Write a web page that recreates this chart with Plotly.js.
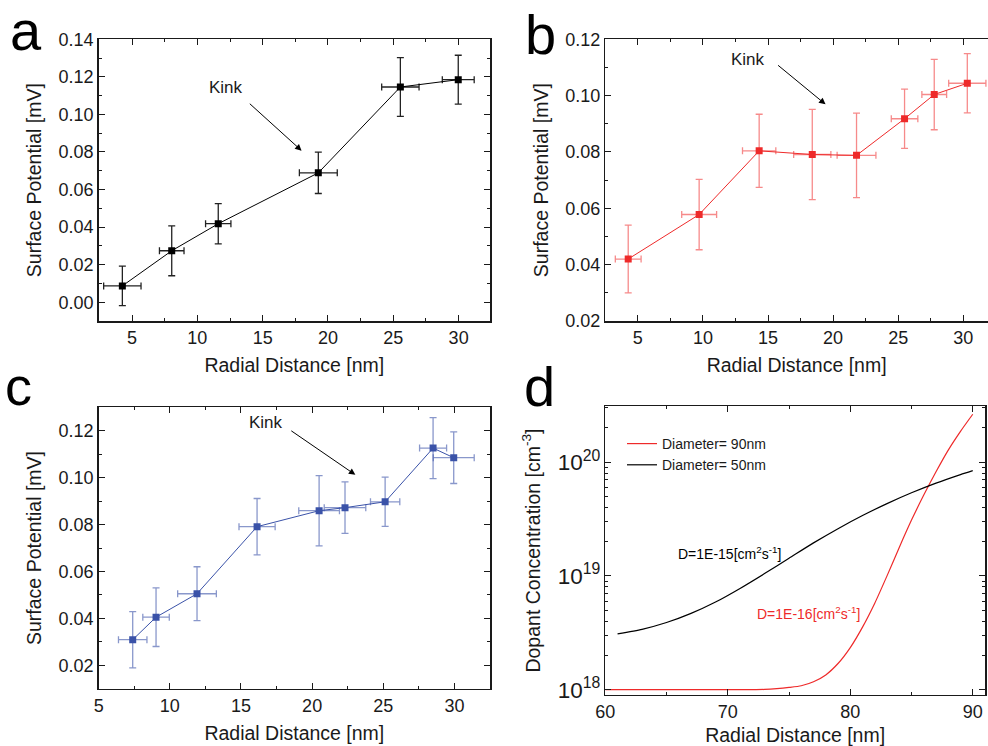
<!DOCTYPE html>
<html>
<head>
<meta charset="utf-8">
<script src="https://cdn.plot.ly/plotly-3.0.1.min.js"></script>
<style>html,body{margin:0;padding:0;background:#fff;}#chart{width:988px;height:746px;}</style>
</head>
<body>
<div id="chart"></div>
<script>
// Panel a (black)
const aX    = [4.26, 8.04, 11.6, 19.26, 25.54, 29.97];
const aY    = [0.0087, 0.0274, 0.0418, 0.0689, 0.1146, 0.1185];
const aXErr = [1.43, 0.94, 0.97, 1.45, 1.43, 1.22];
const aYErr = [0.0105, 0.0133, 0.0107, 0.011, 0.0156, 0.013];
// Panel b (red)
const bX    = [4.26, 9.71, 14.32, 18.4, 21.8, 25.49, 27.77, 30.31];
const bY    = [0.042, 0.0578, 0.0804, 0.0791, 0.0788, 0.0918, 0.1004, 0.1044];
const bXErr = [0.99, 1.34, 1.28, 1.43, 1.49, 1.02, 0.95, 1.43];
const bYErr = [0.012, 0.0125, 0.013, 0.016, 0.015, 0.0105, 0.0125, 0.0105];
// Panel c (blue)
const cX    = [7.39, 9.03, 11.91, 16.13, 20.49, 22.31, 25.13, 28.5, 29.95];
const cY    = [0.0309, 0.0405, 0.0505, 0.0791, 0.0859, 0.0872, 0.0897, 0.1126, 0.1085];
const cXErr = [1.0, 0.93, 1.36, 1.27, 1.43, 1.46, 1.03, 0.95, 1.44];
const cYErr = [0.012, 0.0125, 0.0115, 0.012, 0.015, 0.011, 0.0105, 0.013, 0.011];
// Panel d curves
const d50X = [61, 63, 65, 67, 69, 71, 73, 75, 77, 79, 81, 83, 85, 87, 89, 90];
const d50Y = [3.09e18, 3.39e18, 3.89e18, 4.68e18, 5.89e18, 7.76e18, 1.047e19, 1.429e19, 1.95e19, 2.6e19, 3.39e19, 4.315e19, 5.37e19, 6.53e19, 7.76e19, 8.41e19];
const d90X = [60, 62, 64, 66, 68, 70, 72, 73, 74, 75, 76, 77, 78, 79, 80, 81, 82, 83, 84, 85, 86, 87, 88, 89, 90];
const d90Y = [1.0e18, 1.0e18, 1.0e18, 1.0e18, 1.0e18, 1.0e18, 1.0e18, 1.005e18, 1.021e18, 1.047e18, 1.084e18, 1.175e18, 1.349e18, 1.698e18, 2.344e18, 3.548e18, 5.754e18, 1.0e19, 1.778e19, 3.09e19, 5.129e19, 8.22e19, 1.274e20, 1.862e20, 2.63e20];
const legend90 = 'Diameter= 90nm';
const legend50 = 'Diameter= 50nm';
const panelLabels = ['a', 'b', 'c', 'd'];

const W = 988, H = 746;
const px = v => v / W;
const py = v => 1 - v / H;

const FONT = 'Liberation Sans, Arial, sans-serif';
const INK = '#1a1a1a';
const RED = '#ee2a2a';
const BLUE = '#3a52a8';
const TICK = 18, TITLE = 19.5;

function errTrace(x, y, ex, ey, color, ecolor, xa, ya) {
  return {
    x: x, y: y, xaxis: xa, yaxis: ya, type: 'scatter', mode: 'lines+markers',
    showlegend: false, hoverinfo: 'skip',
    line: {color: color, width: 1},
    marker: {symbol: 'square', size: 7, color: color},
    error_x: {type: 'data', array: ex, visible: true, color: ecolor, thickness: 1.3, width: 3.5},
    error_y: {type: 'data', array: ey, visible: true, color: ecolor, thickness: 1.3, width: 3.5}
  };
}

const traces = [
  errTrace(aX, aY, aXErr, aYErr, '#000', '#222', 'x', 'y'),
  errTrace(bX, bY, bXErr, bYErr, RED, 'rgba(238,42,42,0.55)', 'x2', 'y2'),
  errTrace(cX, cY, cXErr, cYErr, BLUE, 'rgba(58,82,168,0.6)', 'x3', 'y3'),
  {x: d90X, y: d90Y, xaxis: 'x4', yaxis: 'y4', type: 'scatter', mode: 'lines', name: legend90,
   line: {color: RED, width: 1.2, shape: 'spline', smoothing: 0.6}, hoverinfo: 'skip'},
  {x: d50X, y: d50Y, xaxis: 'x4', yaxis: 'y4', type: 'scatter', mode: 'lines', name: legend50,
   line: {color: '#000', width: 1.2, shape: 'spline', smoothing: 0.6}, hoverinfo: 'skip'}
];

function ax(extra) {
  return Object.assign({
    showline: true, linecolor: INK, linewidth: 1.5, mirror: 'ticks',
    ticks: 'inside', ticklen: 6, tickwidth: 1, tickcolor: INK,
    showgrid: false, zeroline: false, automargin: false,
    tickfont: {family: FONT, size: TICK, color: INK}
  }, extra);
}
const xTitle = (st) => ({text: 'Radial Distance [nm]', font: {family: FONT, size: TITLE, color: INK}, standoff: st});
const yTitleSP = (st) => ({text: 'Surface Potential [mV]', font: {family: FONT, size: TITLE, color: INK}, standoff: st});

const leftA = px(98.7), rightA = px(490);
const leftB = px(605.3);

const layout = {
  width: W, height: H,
  margin: {l: 0, r: 0, t: 0, b: 0},
  paper_bgcolor: '#fff', plot_bgcolor: '#fff',
  font: {family: FONT, size: 14, color: INK},
  showlegend: true,
  legend: {x: px(622), y: py(428), xanchor: 'left', yanchor: 'top', bgcolor: 'rgba(0,0,0,0)',
           font: {family: FONT, size: 14, color: INK}, tracegroupgap: 0, itemwidth: 30},
  xaxis: ax({domain: [leftA, rightA], anchor: 'y', range: [2.45, 32.4], dtick: 5, tick0: 0,
             minor: {ticks: 'inside', ticklen: 3, dtick: 2.5, tickcolor: INK}, title: xTitle(11)}),
  yaxis: ax({domain: [py(321), py(39.3)], anchor: 'x', range: [-0.01, 0.14], dtick: 0.02, tick0: 0, tickformat: '.2f',
             minor: {ticks: 'inside', ticklen: 3, dtick: 0.01, tickcolor: INK}, title: yTitleSP(11)}),
  xaxis2: ax({domain: [leftB, 1], anchor: 'y2', range: [2.5, 31.9], dtick: 5, tick0: 0,
             minor: {ticks: 'inside', ticklen: 3, dtick: 2.5, tickcolor: INK}, title: xTitle(11)}),
  yaxis2: ax({domain: [py(321), py(39.3)], anchor: 'x2', range: [0.02, 0.12], dtick: 0.02, tick0: 0, tickformat: '.2f', mirror: false,
             minor: {ticks: 'inside', ticklen: 3, dtick: 0.01, tickcolor: INK}, title: yTitleSP(11)}),
  xaxis3: ax({domain: [leftA, rightA], anchor: 'y3', range: [5, 32.5], dtick: 5, tick0: 0,
             minor: {ticks: 'inside', ticklen: 3, dtick: 2.5, tickcolor: INK}, title: xTitle(11)}),
  yaxis3: ax({domain: [py(688.7), py(407.3)], anchor: 'x3', range: [0.01, 0.13], dtick: 0.02, tick0: 0, tickformat: '.2f',
             minor: {ticks: 'inside', ticklen: 3, dtick: 0.01, tickcolor: INK}, title: yTitleSP(11)}),
  xaxis4: ax({domain: [leftB, px(985)], anchor: 'y4', range: [60, 91], dtick: 10, tick0: 0,
             minor: {ticks: 'inside', ticklen: 3, dtick: 5, tickcolor: INK}, title: xTitle(11)}),
  yaxis4: ax({domain: [py(694.7), py(406.3)], anchor: 'x4', type: 'log', range: [17.956, 20.49], dtick: 1,
             exponentformat: 'power', showexponent: 'all',
             minor: {ticks: 'inside', ticklen: 3, tickcolor: INK},
             title: {text: 'Dopant Concentration [cm<sup>-3</sup>]', font: {family: FONT, size: TITLE, color: INK}, standoff: 12}}),
  annotations: [
    {text: panelLabels[0], xref: 'paper', yref: 'paper', x: px(8), y: py(30), xanchor: 'left', yanchor: 'middle', showarrow: false, font: {family: FONT, size: 56, color: '#000'}},
    {text: panelLabels[1], xref: 'paper', yref: 'paper', x: px(523), y: py(34), xanchor: 'left', yanchor: 'middle', showarrow: false, font: {family: FONT, size: 56, color: '#000'}},
    {text: panelLabels[2], xref: 'paper', yref: 'paper', x: px(3), y: py(386), xanchor: 'left', yanchor: 'middle', showarrow: false, font: {family: FONT, size: 54, color: '#000'}},
    {text: panelLabels[3], xref: 'paper', yref: 'paper', x: px(522), y: py(386), xanchor: 'left', yanchor: 'middle', showarrow: false, font: {family: FONT, size: 56, color: '#000'}},
    // Kink labels and arrows
    {text: 'Kink', xref: 'x', yref: 'y', x: 12.17, y: 0.1144, showarrow: false, font: {family: FONT, size: 17, color: INK}},
    {text: '', xref: 'x', yref: 'y', x: 17.98, y: 0.0807, axref: 'x', ayref: 'y', ax: 13.9, ay: 0.1064,
     showarrow: true, arrowhead: 2, arrowsize: 1.3, arrowwidth: 1, arrowcolor: '#000'},
    {text: 'Kink', xref: 'x2', yref: 'y2', x: 13.45, y: 0.1129, showarrow: false, font: {family: FONT, size: 17, color: INK}},
    {text: '', xref: 'x2', yref: 'y2', x: 19.42, y: 0.0969, axref: 'x2', ayref: 'y2', ax: 15.66, ay: 0.1112,
     showarrow: true, arrowhead: 2, arrowsize: 1.3, arrowwidth: 1, arrowcolor: '#000'},
    {text: 'Kink', xref: 'x3', yref: 'y3', x: 16.79, y: 0.1236, showarrow: false, font: {family: FONT, size: 17, color: INK}},
    {text: '', xref: 'x3', yref: 'y3', x: 23.04, y: 0.1012, axref: 'x3', ayref: 'y3', ax: 18.43, ay: 0.1204,
     showarrow: true, arrowhead: 2, arrowsize: 1.3, arrowwidth: 1, arrowcolor: '#000'},
    // Panel d labels
    {text: 'D=1E-15[cm<sup>2</sup>s<sup>-1</sup>]', xref: 'x4', yref: 'y4', x: 70.1, y: 19.2, showarrow: false, font: {family: FONT, size: 14, color: '#000'}},
    {text: 'D=1E-16[cm<sup>2</sup>s<sup>-1</sup>]', xref: 'x4', yref: 'y4', x: 76.6, y: 18.67, showarrow: false, font: {family: FONT, size: 14, color: RED}}
  ]
};

Plotly.newPlot('chart', traces, layout, {staticPlot: true, displayModeBar: false});
</script>
</body>
</html>
